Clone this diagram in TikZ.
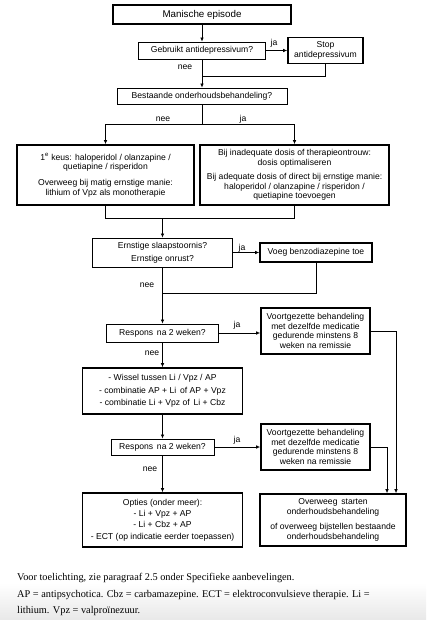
\documentclass[tikz,border=0pt]{standalone}
\usepackage{fontspec}
\setmainfont{Liberation Sans}
\newfontfamily\footfont{Liberation Serif}
\usetikzlibrary{arrows.meta}
\newcommand{\fsz}{\fontsize{8.6}{9.6}\selectfont}
\begin{document}
\begin{tikzpicture}[x=1pt,y=-1pt,
  box/.style={draw, line width=0.8pt, align=center, inner sep=0pt, font=\fsz},
  thickbox/.style={box, line width=1.7pt},
  conn/.style={line width=0.7pt},
  arr/.style={conn, -{Latex[length=4pt,width=3.6pt]}},
  lab/.style={font=\fsz, inner sep=0pt},
  foot/.style={anchor=base west, inner sep=0pt, font=\footfont\fontsize{10.3}{12}\selectfont}]
\useasboundingbox (0,0) rectangle (426,620);
\shade[top color=white, bottom color=black!9] (0,583) rectangle (426,620);

% nodes
\node[thickbox, minimum width=178pt, minimum height=19pt, font=\fontsize{9.8}{11}\selectfont] (man) at (202,14.5) {Manische episode};
\node[box, minimum width=127pt, minimum height=17pt] (geb) at (202,50.5) {Gebruikt antidepressivum?};
\node[thickbox, minimum width=75pt, minimum height=26pt] (stop) at (325.5,50.5) {Stop\\antidepressivum};
\node[box, minimum width=170pt, minimum height=16pt] (best) at (202,96) {Bestaande onderhoudsbehandeling?};
\node[thickbox, minimum width=177pt, minimum height=60pt] (left) at (105.5,175)
  {1\textsuperscript{e} keus: haloperidol / olanzapine /\\quetiapine / risperidon\\[6pt]Overweeg bij matig ernstige manie:\\lithium of Vpz als monotherapie};
\node[thickbox, minimum width=189pt, minimum height=60pt] (right) at (294.5,175)
  {Bij inadequate dosis of therapieontrouw:\\dosis optimaliseren\\[5pt]Bij adequate dosis of direct bij ernstige manie:\\haloperidol / olanzapine / risperidon /\\quetiapine toevoegen};
\node[box, minimum width=140pt, minimum height=29pt] (ern) at (162.5,252.5) {Ernstige slaapstoornis?\\[3.5pt]Ernstige onrust?};
\node[thickbox, minimum width=112pt, minimum height=19pt] (voeg) at (316,252.5) {Voeg benzodiazepine toe};
\node[box, minimum width=112pt, minimum height=18pt] (resp1) at (162.5,333) {Respons\, na 2 weken?};
\node[thickbox, minimum width=109pt, minimum height=46pt] (voort1) at (315.5,331)
  {Voortgezette behandeling\\met dezelfde medicatie\\gedurende minstens 8\\weken na remissie};
\node[thickbox, minimum width=160pt, minimum height=46pt] (wissel) at (162.5,391)
  {- Wissel tussen Li / Vpz / AP\\[3pt]- combinatie AP + Li\, of AP + Vpz\\[3pt]- combinatie Li + Vpz of\, Li + Cbz};
\node[box, minimum width=103pt, minimum height=16pt] (resp2) at (162.5,447) {Respons\, na 2 weken?};
\node[thickbox, minimum width=109pt, minimum height=46pt] (voort2) at (315.5,447)
  {Voortgezette behandeling\\met dezelfde medicatie\\gedurende minstens 8\\weken na remissie};
\node[thickbox, minimum width=160pt, minimum height=54pt] (opties) at (162.5,520)
  {Opties (onder meer):\\[1.6pt]- Li + Vpz + AP\\[1.6pt]- Li + Cbz + AP\\[1.6pt]- ECT (op indicatie eerder toepassen)};
\node[thickbox, minimum width=146pt, minimum height=52pt] (over) at (333,520)
  {Overweeg\, starten\\onderhoudsbehandeling\\[6pt]of overweeg bijstellen bestaande\\onderhoudsbehandeling};

% coordinates
\coordinate (j1) at (202,76);
\coordinate (b1) at (202,124);
\coordinate (j2) at (162.5,218);
\coordinate (j3) at (162.5,293);
\coordinate (r1) at (396,331);
\coordinate (r2) at (387,447);

% connectors
\draw[arr] (man.south) -- (geb.north);
\draw[arr] (geb.east) -- (stop.west);
\draw[arr] (geb.south) -- (best.north);
\draw[conn] (stop.south) |- (j1);
\draw[conn] (best.south) -- (b1);
\draw[arr] (b1) -| (left.north);
\draw[arr] (b1) -| (right.north);
\draw[conn] (left.south) |- (j2);
\draw[conn] (right.south) |- (j2);
\draw[arr] (j2) -- (ern.north);
\draw[arr] (ern.east) -- (voeg.west);
\draw[conn] (voeg.south) |- (j3);
\draw[arr] (ern.south) -- (resp1.north);
\draw[arr] (resp1.east) -- (resp1.east -| voort1.west);
\draw[arr] (resp1.south) -- (wissel.north);
\draw[arr] (wissel.south) -- (resp2.north);
\draw[arr] (resp2.east) -- (voort2.west);
\draw[arr] (resp2.south) -- (opties.north);
\draw[arr] (voort1.east) -- (r1) -- (r1 |- over.north);
\draw[arr] (voort2.east) -- (r2) -- (r2 |- over.north);

% labels
\node[lab] at (274,43) {ja};
\node[lab] at (185,67) {nee};
\node[lab] at (163,119) {nee};
\node[lab] at (243,119) {ja};
\node[lab] at (242,248) {ja};
\node[lab] at (147,285) {nee};
\node[lab] at (237,325) {ja};
\node[lab] at (152,353) {nee};
\node[lab] at (237,440) {ja};
\node[lab] at (150,469) {nee};

% footnote
\node[foot] (f1) at (17,580.5) {Voor toelichting, zie paragraaf 2.5 onder Specifieke aanbevelingen.};
\node[foot] (f2) at (17,597.5) {AP = antipsychotica. Cbz = carbamazepine. ECT = elektroconvulsieve therapie. Li =};
\node[foot] (f3) at (17,613.5) {lithium. Vpz = valproïnezuur.};
\end{tikzpicture}
\end{document}
